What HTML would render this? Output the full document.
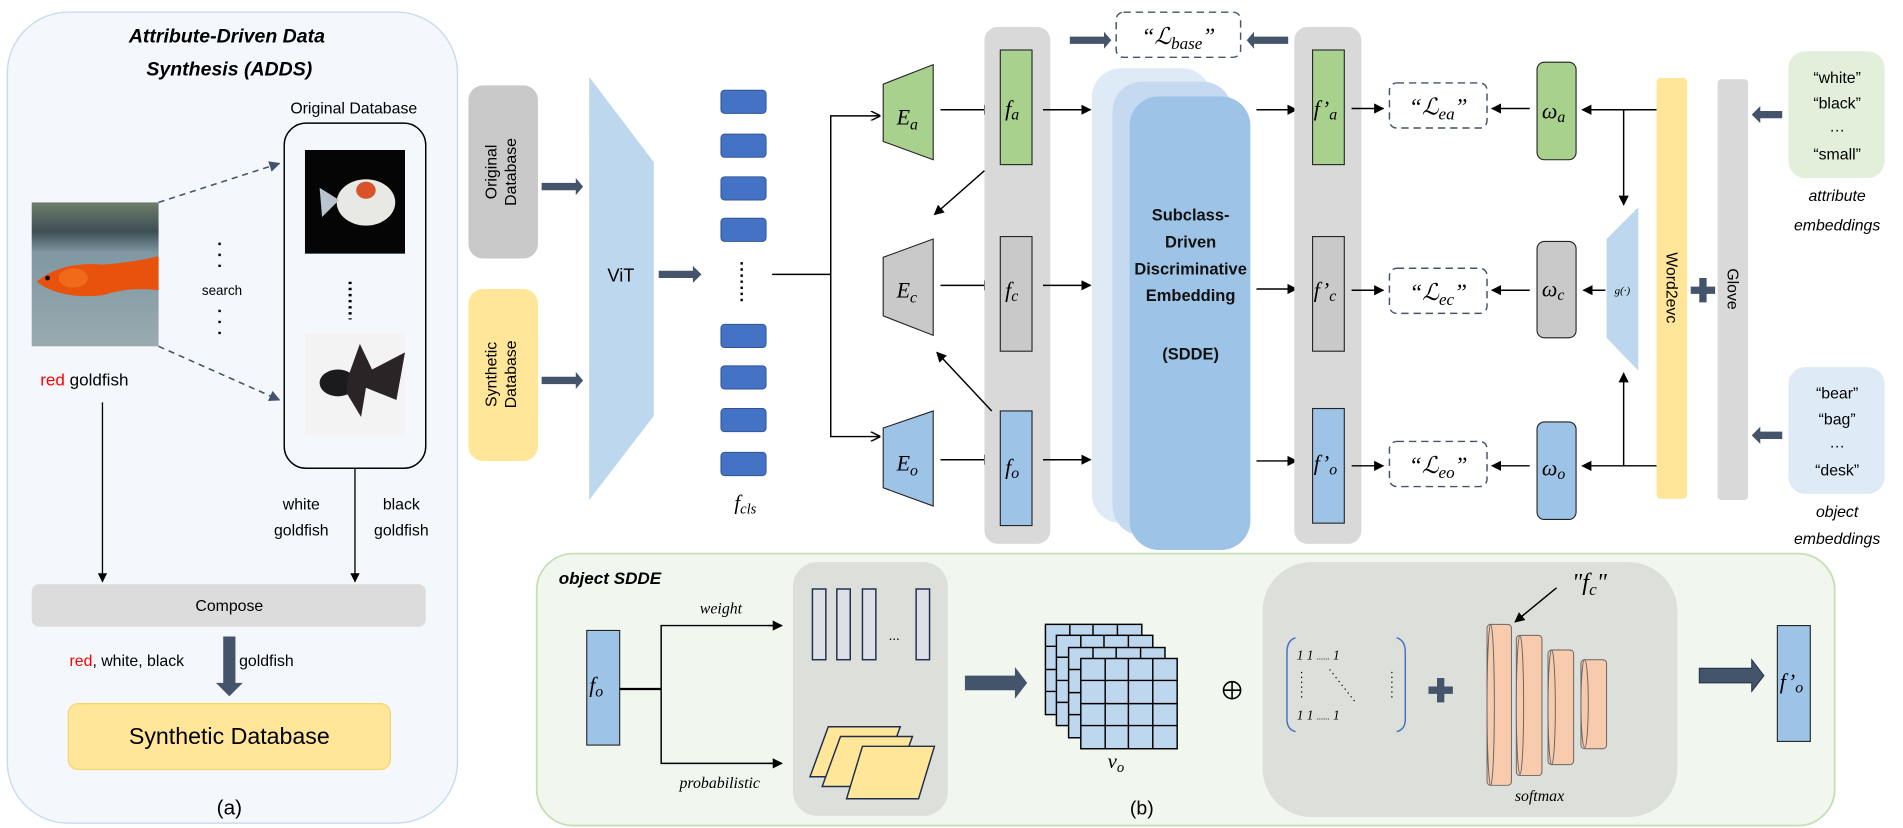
<!DOCTYPE html>
<html><head><meta charset="utf-8"><style>
html,body{margin:0;padding:0;background:#fff;}
svg{display:block}
.t{font-family:"Liberation Sans",sans-serif;}
.m{font-family:"Liberation Serif",serif;font-style:italic;}
</style></head><body>
<svg width="1903" height="828" viewBox="0 0 1560 679" preserveAspectRatio="none" xmlns="http://www.w3.org/2000/svg">
<defs>
<marker id="ah" viewBox="0 0 10 10" refX="9" refY="5" markerWidth="7" markerHeight="7" orient="auto"><path d="M0,0L10,5L0,10z" fill="#000"/></marker>
<marker id="ao" viewBox="0 0 10 10" refX="9" refY="5" markerWidth="8" markerHeight="8" orient="auto"><path d="M0,0L10,5L0,10" fill="none" stroke="#000" stroke-width="1.5"/></marker>
<marker id="ad" viewBox="0 0 10 10" refX="9" refY="5" markerWidth="7" markerHeight="7" orient="auto"><path d="M0,0L10,5L0,10z" fill="#44546a"/></marker>
<linearGradient id="wat" x1="0" y1="0" x2="0" y2="1"><stop offset="0" stop-color="#6d7f6a"/><stop offset="0.2" stop-color="#3e4e55"/><stop offset="0.35" stop-color="#7f98a3"/><stop offset="1" stop-color="#9aaab0"/></linearGradient>
</defs>

<!-- LEFT PANEL -->
<rect x="6" y="10" width="369" height="665" rx="50" fill="#f4f8fc" stroke="#c9dcef" stroke-width="1.2"/>
<text class="t" x="186" y="35" font-size="16" font-weight="bold" font-style="italic" text-anchor="middle">Attribute-Driven Data</text>
<text class="t" x="188" y="62" font-size="16" font-weight="bold" font-style="italic" text-anchor="middle">Synthesis (ADDS)</text>
<text class="t" x="290" y="93" font-size="13" text-anchor="middle">Original Database</text>
<rect x="233" y="101" width="116" height="283" rx="18" fill="none" stroke="#000" stroke-width="1.2"/>
<!-- white fish -->
<rect x="250" y="123" width="82" height="85" fill="#050505"/>
<ellipse cx="300" cy="166" rx="24" ry="19" fill="#e8e8e4"/>
<ellipse cx="300" cy="156" rx="8" ry="7" fill="#d9532a"/>
<path d="M278,164 L262,154 L264,178 Z" fill="#b9c4d0"/>
<!-- dots -->
<line x1="287" y1="231" x2="287" y2="262" stroke="#000" stroke-width="2.5" stroke-dasharray="2,3"/>
<!-- black fish -->
<rect x="250" y="273" width="82" height="84" fill="#f3f3f3"/>
<ellipse cx="277" cy="314" rx="15" ry="11" fill="#1b1a1c"/>
<path d="M285,310 L295,282 L305,303 L332,289 L325,328 L300,318 L296,342 L284,322Z" fill="#2a2426"/>
<!-- red fish -->
<rect x="26" y="166" width="104" height="118" fill="url(#wat)"/>
<path d="M30,231 Q50,214 85,217 Q110,215 130,210 L130,238 Q105,235 85,242 Q50,246 30,231Z" fill="#e8520c"/>
<ellipse cx="60" cy="228" rx="12" ry="8" fill="#f06a1a"/>
<circle cx="39" cy="228" r="2" fill="#111"/>
<text class="t" x="33" y="316" font-size="14"><tspan fill="#ff0000">red</tspan> goldfish</text>
<line x1="130" y1="166" x2="229" y2="134" stroke="#44546a" stroke-width="1.3" stroke-dasharray="5,4" marker-end="url(#ad)"/>
<line x1="130" y1="284" x2="229" y2="328" stroke="#44546a" stroke-width="1.3" stroke-dasharray="5,4" marker-end="url(#ad)"/>
<line x1="180" y1="199" x2="180" y2="222" stroke="#000" stroke-width="2" stroke-dasharray="2,7"/>
<text class="t" x="182" y="242" font-size="11" text-anchor="middle">search</text>
<line x1="180" y1="254" x2="180" y2="276" stroke="#000" stroke-width="2" stroke-dasharray="2,7"/>
<line x1="84" y1="330" x2="84" y2="477" stroke="#000" stroke-width="1.1" marker-end="url(#ah)"/>
<line x1="291" y1="384" x2="291" y2="477" stroke="#000" stroke-width="1.1" marker-end="url(#ah)"/>
<text class="t" x="247" y="418" font-size="13" text-anchor="middle">white</text>
<text class="t" x="247" y="439" font-size="13" text-anchor="middle">goldfish</text>
<text class="t" x="329" y="418" font-size="13" text-anchor="middle">black</text>
<text class="t" x="329" y="439" font-size="13" text-anchor="middle">goldfish</text>
<rect x="26" y="479" width="323" height="35" rx="6" fill="#dcdcdc"/>
<text class="t" x="188" y="501" font-size="13" text-anchor="middle">Compose</text>
<text class="t" x="57" y="546" font-size="13"><tspan fill="#ff0000">red</tspan>,  white, black</text>
<text class="t" x="196" y="546" font-size="13">goldfish</text>
<path d="M183,522 L193,522 L193,560 L199,560 L188,571 L177,560 L183,560Z" fill="#44546a"/>
<rect x="56" y="577" width="264" height="54" rx="8" fill="#ffe699" stroke="#f7d470" stroke-width="1"/>
<text class="t" x="188" y="610" font-size="19" text-anchor="middle">Synthetic Database</text>
<text class="t" x="188" y="668" font-size="17" text-anchor="middle">(a)</text>

<!-- MIDDLE -->
<rect x="384" y="70" width="57" height="142" rx="12" fill="#c9c9c9"/>
<text class="t" font-size="13" text-anchor="middle" transform="translate(412,141) rotate(-90)"><tspan x="0" y="-5">Original</tspan><tspan x="0" y="11">Database</tspan></text>
<rect x="384" y="237" width="57" height="141" rx="12" fill="#ffe699"/>
<text class="t" font-size="13" text-anchor="middle" transform="translate(412,307) rotate(-90)"><tspan x="0" y="-5">Synthetic</tspan><tspan x="0" y="11">Database</tspan></text>
<path d="M444,150 L472,150 L472,146 L478,153 L472,160 L472,156 L444,156Z" fill="#44546a"/>
<path d="M444,309 L472,309 L472,305 L478,312 L472,319 L472,315 L444,315Z" fill="#44546a"/>
<path d="M483,63 L536,133 L536,341 L483,410Z" fill="#bdd7ee"/>
<text class="t" x="509" y="231" font-size="15" text-anchor="middle">ViT</text>
<path d="M540,222 L568,222 L568,218 L575,225 L568,232 L568,228 L540,228Z" fill="#44546a"/>
<g fill="#4472c4" stroke="#2f5597" stroke-width="0.8">
<rect x="591" y="74" width="37" height="19" rx="3"/><rect x="591" y="110" width="37" height="19" rx="3"/>
<rect x="591" y="145" width="37" height="19" rx="3"/><rect x="591" y="179" width="37" height="19" rx="3"/>
<rect x="591" y="266" width="37" height="19" rx="3"/><rect x="591" y="300" width="37" height="19" rx="3"/>
<rect x="591" y="335" width="37" height="19" rx="3"/><rect x="591" y="371" width="37" height="19" rx="3"/>
</g>
<line x1="608" y1="215" x2="608" y2="250" stroke="#000" stroke-width="2" stroke-dasharray="2,3"/>
<text class="m" x="602" y="418" font-size="17">f<tspan font-size="12" dy="3">cls</tspan></text>
<polyline points="633,225 681,225" fill="none" stroke="#000" stroke-width="1.2"/>
<polyline points="721,95 681,95 681,358 721,358" fill="none" stroke="#000" stroke-width="1.2"/>
<line x1="716" y1="95" x2="721" y2="95" stroke="#000" marker-end="url(#ao)"/>
<line x1="716" y1="358" x2="721" y2="358" stroke="#000" marker-end="url(#ao)"/>
<path d="M724,69 L765,53 L765,131 L724,116Z" fill="#a9d18e" stroke="#222" stroke-width="0.9"/>
<path d="M724,211 L765,196 L765,275 L724,259Z" fill="#c9c9c9" stroke="#222" stroke-width="0.9"/>
<path d="M724,351 L765,337 L765,415 L724,400Z" fill="#9dc3e6" stroke="#222" stroke-width="0.9"/>
<text class="m" x="735" y="102" font-size="18">E<tspan font-size="13" dy="4">a</tspan></text>
<text class="m" x="735" y="244" font-size="18">E<tspan font-size="13" dy="4">c</tspan></text>
<text class="m" x="735" y="386" font-size="18">E<tspan font-size="13" dy="4">o</tspan></text>
<g stroke="#000" stroke-width="1.2" marker-end="url(#ah)">
<line x1="771" y1="90" x2="814" y2="90"/><line x1="771" y1="234" x2="814" y2="234"/><line x1="771" y1="377" x2="814" y2="377"/>
</g>
<rect x="807" y="22" width="54" height="424" rx="11" fill="#d9d9d9"/>
<rect x="820" y="41" width="26" height="94" fill="#a9d18e" stroke="#222" stroke-width="0.9"/>
<rect x="820" y="194" width="26" height="94" fill="#c9c9c9" stroke="#222" stroke-width="0.9"/>
<rect x="820" y="337" width="26" height="94" fill="#9dc3e6" stroke="#222" stroke-width="0.9"/>
<text class="m" x="824" y="95" font-size="18">f<tspan font-size="13" dy="3">a</tspan></text>
<text class="m" x="824" y="244" font-size="18">f<tspan font-size="13" dy="3">c</tspan></text>
<text class="m" x="824" y="389" font-size="18">f<tspan font-size="13" dy="3">o</tspan></text>
<g stroke="#000" stroke-width="1.2" marker-end="url(#ah)">
<line x1="807" y1="140" x2="766" y2="176"/><line x1="813" y1="337" x2="768" y2="289"/>
<line x1="855" y1="90" x2="894" y2="90"/><line x1="855" y1="234" x2="894" y2="234"/><line x1="855" y1="377" x2="894" y2="377"/>
</g>
<!-- L base -->
<path d="M877,30 L905,30 L905,26 L911,33 L905,40 L905,36 L877,36Z" fill="#44546a"/>
<path d="M1056,30 L1028,30 L1028,26 L1022,33 L1028,40 L1028,36 L1056,36Z" fill="#44546a"/>
<rect x="915" y="10" width="102" height="37" rx="6" fill="none" stroke="#44546a" stroke-width="1.2" stroke-dasharray="6,4"/>
<text class="m" x="966" y="36" font-size="19" text-anchor="middle">“ℒ<tspan font-size="14" dy="4">base</tspan><tspan dy="-4">”</tspan></text>
<!-- SDDE -->
<rect x="895" y="56" width="98" height="373" rx="24" fill="#deeaf6"/>
<rect x="912" y="67" width="98" height="372" rx="24" fill="#c5daf0"/>
<rect x="926" y="79" width="99" height="372" rx="24" fill="#9dc3e6"/>
<g class="t" font-size="13.5" font-weight="bold" text-anchor="middle" fill="#111">
<text x="976" y="181">Subclass-</text><text x="976" y="203">Driven</text><text x="976" y="225">Discriminative</text><text x="976" y="247">Embedding</text><text x="976" y="295">(SDDE)</text>
</g>
<g stroke="#000" stroke-width="1.2" marker-end="url(#ah)">
<line x1="1030" y1="90" x2="1063" y2="90"/><line x1="1030" y1="237" x2="1063" y2="237"/><line x1="1030" y1="378" x2="1063" y2="378"/>
</g>
<rect x="1061" y="22" width="55" height="424" rx="11" fill="#d9d9d9"/>
<rect x="1076" y="41" width="26" height="94" fill="#a9d18e" stroke="#222" stroke-width="0.9"/>
<rect x="1076" y="194" width="26" height="94" fill="#c9c9c9" stroke="#222" stroke-width="0.9"/>
<rect x="1076" y="335" width="26" height="94" fill="#9dc3e6" stroke="#222" stroke-width="0.9"/>
<text class="m" x="1077" y="95" font-size="18">f’<tspan font-size="13" dy="3">a</tspan></text>
<text class="m" x="1077" y="244" font-size="18">f’<tspan font-size="13" dy="3">c</tspan></text>
<text class="m" x="1077" y="386" font-size="18">f’<tspan font-size="13" dy="3">o</tspan></text>
<g stroke="#000" stroke-width="1.2" marker-end="url(#ah)">
<line x1="1108" y1="89" x2="1134" y2="89"/><line x1="1108" y1="238" x2="1134" y2="238"/><line x1="1108" y1="382" x2="1134" y2="382"/>
<line x1="1254" y1="89" x2="1223" y2="89"/><line x1="1254" y1="238" x2="1223" y2="238"/><line x1="1254" y1="382" x2="1223" y2="382"/>
</g>
<g fill="none" stroke="#44546a" stroke-width="1.2" stroke-dasharray="6,4">
<rect x="1139" y="68" width="80" height="37" rx="6"/><rect x="1139" y="220" width="80" height="37" rx="6"/><rect x="1139" y="362" width="80" height="37" rx="6"/>
</g>
<text class="m" x="1179" y="94" font-size="19" text-anchor="middle">“ℒ<tspan font-size="14" dy="4">ea</tspan><tspan dy="-4">”</tspan></text>
<text class="m" x="1179" y="246" font-size="19" text-anchor="middle">“ℒ<tspan font-size="14" dy="4">ec</tspan><tspan dy="-4">”</tspan></text>
<text class="m" x="1179" y="388" font-size="19" text-anchor="middle">“ℒ<tspan font-size="14" dy="4">eo</tspan><tspan dy="-4">”</tspan></text>
<rect x="1260" y="51" width="32" height="80" rx="6" fill="#a9d18e" stroke="#222" stroke-width="0.9"/>
<rect x="1260" y="198" width="32" height="79" rx="6" fill="#c9c9c9" stroke="#222" stroke-width="0.9"/>
<rect x="1260" y="346" width="32" height="80" rx="6" fill="#9dc3e6" stroke="#222" stroke-width="0.9"/>
<text class="m" x="1264" y="97" font-size="18">ω<tspan font-size="13" dy="3">a</tspan></text>
<text class="m" x="1264" y="243" font-size="18">ω<tspan font-size="13" dy="3">c</tspan></text>
<text class="m" x="1264" y="390" font-size="18">ω<tspan font-size="13" dy="3">o</tspan></text>
<g stroke="#000" stroke-width="1.2" marker-end="url(#ah)">
<line x1="1358" y1="90" x2="1297" y2="90"/><line x1="1358" y1="382" x2="1297" y2="382"/>
<line x1="1331" y1="90" x2="1331" y2="168"/><line x1="1331" y1="382" x2="1331" y2="306"/>
<line x1="1316" y1="238" x2="1298" y2="238"/>
</g>
<path d="M1317,196 L1343,170 L1343,304 L1317,277Z" fill="#bdd7ee"/>
<text class="m" x="1330" y="241" font-size="9" text-anchor="middle">g(·)</text>
<rect x="1358" y="64" width="25" height="345" rx="3" fill="#ffe699"/>
<text class="t" font-size="13" text-anchor="middle" transform="translate(1366,236) rotate(90)">Word2evc</text>
<path d="M1393,228 L1399,228 L1399,235 L1406,235 L1406,241 L1399,241 L1399,248 L1393,248 L1393,241 L1386,241 L1386,235 L1393,235Z" fill="#44546a"/>
<rect x="1408" y="65" width="25" height="345" rx="3" fill="#d9d9d9"/>
<text class="t" font-size="13" text-anchor="middle" transform="translate(1416,237) rotate(90)">Glove</text>
<path d="M1461,91 L1443,91 L1443,87 L1436,94 L1443,101 L1443,97 L1461,97Z" fill="#44546a"/>
<path d="M1461,354 L1443,354 L1443,350 L1436,357 L1443,364 L1443,360 L1461,360Z" fill="#44546a"/>
<rect x="1466" y="42" width="79" height="104" rx="14" fill="#e2efda"/>
<g class="t" font-size="13" text-anchor="middle">
<text x="1506" y="68">“white”</text><text x="1506" y="89">“black”</text><text x="1506" y="108">…</text><text x="1506" y="131">“small”</text>
</g>
<text class="t" x="1506" y="165" font-size="13" font-style="italic" text-anchor="middle">attribute</text>
<text class="t" x="1506" y="189" font-size="13" font-style="italic" text-anchor="middle">embeddings</text>
<rect x="1466" y="301" width="79" height="104" rx="14" fill="#deebf7"/>
<g class="t" font-size="13" text-anchor="middle">
<text x="1506" y="327">“bear”</text><text x="1506" y="348">“bag”</text><text x="1506" y="367">…</text><text x="1506" y="390">“desk”</text>
</g>
<text class="t" x="1506" y="424" font-size="13" font-style="italic" text-anchor="middle">object</text>
<text class="t" x="1506" y="446" font-size="13" font-style="italic" text-anchor="middle">embeddings</text>

<!-- BOTTOM PANEL -->
<rect x="440" y="454" width="1064" height="223" rx="30" fill="#f1f7ee" stroke="#c5e0b4" stroke-width="1.5"/>
<text class="t" x="458" y="479" font-size="14" font-weight="bold" font-style="italic">object  SDDE</text>
<rect x="481" y="517" width="27" height="94" fill="#9dc3e6" stroke="#222" stroke-width="0.9"/>
<text class="m" x="483" y="568" font-size="18">f<tspan font-size="13" dy="3">o</tspan></text>
<line x1="508" y1="565" x2="542" y2="565" stroke="#000" stroke-width="1.8"/>
<polyline points="639,513 542,513 542,626 639,626" fill="none" stroke="#000" stroke-width="1.2"/>
<line x1="630" y1="513" x2="641" y2="513" stroke="#000" stroke-width="1.2" marker-end="url(#ah)"/>
<line x1="630" y1="626" x2="641" y2="626" stroke="#000" stroke-width="1.2" marker-end="url(#ah)"/>
<text class="m" x="591" y="503" font-size="13" text-anchor="middle">weight</text>
<text class="m" x="590" y="646" font-size="13" text-anchor="middle">probabilistic</text>
<rect x="650" y="461" width="127" height="208" rx="20" fill="#dcdfda"/>
<g fill="#dde0e6" stroke="#1f2f4f" stroke-width="1.2">
<rect x="666" y="483" width="11" height="58"/><rect x="686" y="483" width="11" height="58"/><rect x="707" y="483" width="11" height="58"/><rect x="751" y="483" width="11" height="58"/>
</g>
<text class="t" x="733" y="525" font-size="11" text-anchor="middle">...</text>
<g fill="#ffe699" stroke="#1f2f4f" stroke-width="1.2">
<path d="M679,596 L738,596 L723,637 L664,637Z"/>
<path d="M689,604 L748,604 L733,645 L674,645Z"/>
<path d="M707,612 L766,612 L753,655 L694,655Z"/>
</g>
<path d="M791,554 L832,554 L832,547 L842,560 L832,573 L832,566 L791,566Z" fill="#44546a"/>
<g fill="#bdd7ee" stroke="#000" stroke-width="1.2">
<g id="gr"><rect x="857" y="512" width="79" height="74"/>
<path d="M877,512V586M896,512V586M916,512V586M857,530H936M857,549H936M857,567H936" fill="none"/></g>
<use href="#gr" x="9" y="9"/><use href="#gr" x="19" y="19"/><use href="#gr" x="29" y="28"/>
</g>
<text class="m" x="908" y="630" font-size="17">v<tspan font-size="12" dy="3">o</tspan></text>
<text class="t" x="936" y="668" font-size="16" text-anchor="middle">(b)</text>
<circle cx="1010" cy="566" r="7" fill="none" stroke="#000" stroke-width="1.3"/>
<path d="M1003,566H1017M1010,559V573" stroke="#000" stroke-width="1.3"/>
<rect x="1035" y="461" width="340" height="209" rx="40" fill="#dcdfda"/>
<path d="M1062,523 Q1055,525 1055,535 L1055,590 Q1055,598 1062,600" fill="none" stroke="#4472c4" stroke-width="1.2"/>
<path d="M1145,523 Q1152,525 1152,535 L1152,590 Q1152,598 1145,600" fill="none" stroke="#4472c4" stroke-width="1.2"/>
<text class="m" x="1063" y="541" font-size="11">1 1 <tspan font-size="7">......</tspan>   1</text>
<text class="m" x="1063" y="590" font-size="11">1 1 <tspan font-size="7">......</tspan>   1</text>
<line x1="1067" y1="551" x2="1067" y2="575" stroke="#000" stroke-dasharray="1,3"/>
<line x1="1141" y1="551" x2="1141" y2="575" stroke="#000" stroke-dasharray="1,3"/>
<line x1="1090" y1="549" x2="1112" y2="577" stroke="#000" stroke-dasharray="1,3"/>
<path d="M1178,556 L1184,556 L1184,563 L1191,563 L1191,569 L1184,569 L1184,576 L1178,576 L1178,569 L1171,569 L1171,563 L1178,563Z" fill="#44546a"/>
<g fill="#f8cbad" stroke="#666" stroke-width="0.8">
<rect x="1219" y="512" width="20" height="132" rx="3"/><ellipse cx="1222" cy="578" rx="3" ry="66"/>
<rect x="1243" y="521" width="21" height="115" rx="3"/><ellipse cx="1246" cy="578" rx="3" ry="57"/>
<rect x="1269" y="533" width="21" height="94" rx="3"/><ellipse cx="1272" cy="580" rx="3" ry="47"/>
<rect x="1296" y="541" width="21" height="73" rx="3"/><ellipse cx="1299" cy="577" rx="3" ry="36"/>
</g>
<line x1="1276" y1="482" x2="1242" y2="510" stroke="#000" stroke-width="1.2" marker-end="url(#ah)"/>
<text class="m" x="1303" y="484" font-size="20" text-anchor="middle">"f<tspan font-size="14" dy="4">c</tspan><tspan dy="-4">"</tspan></text>
<text class="m" x="1262" y="657" font-size="13" text-anchor="middle">softmax</text>
<path d="M1393,548 L1436,548 L1436,541 L1446,554 L1436,567 L1436,560 L1393,560Z" fill="#44546a" stroke="#1f2f4f" stroke-width="0.8"/>
<rect x="1457" y="513" width="27" height="95" fill="#9dc3e6" stroke="#222" stroke-width="0.9"/>
<text class="m" x="1459" y="565" font-size="18">f’<tspan font-size="13" dy="3">o</tspan></text>
</svg>
</body></html>
